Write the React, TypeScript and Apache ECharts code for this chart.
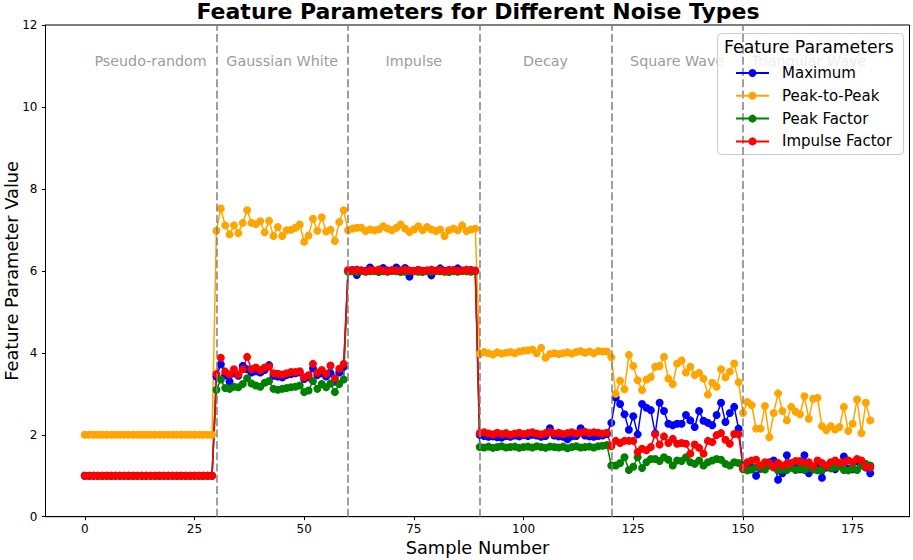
import React, { useEffect, useRef } from "react";
import * as echarts from "echarts";

const FONT = "DejaVu Sans";

// Sample-level values per feature (x = 0..179), six noise segments of 30 samples
const maximum = [
  1, 1, 1, 1, 1, 1, 1, 1, 1, 1, 1, 1, 1, 1, 1, 1, 1, 1, 1, 1, 1, 1, 1, 1, 1, 1, 1, 1, 1, 1,
  3.42, 3.72, 3.45, 3.30, 3.50, 3.44, 3.68, 3.60, 3.52, 3.55, 3.52, 3.58, 3.70, 3.44, 3.42, 3.40, 3.46, 3.48, 3.50, 3.52, 3.36, 3.40, 3.62, 3.46, 3.50, 3.42, 3.50, 3.30, 3.52, 3.66,
  6.00, 6.02, 5.90, 6.01, 6.00, 6.08, 6.00, 6.02, 6.07, 6.01, 6.00, 6.08, 6.01, 6.07, 5.86, 6.00, 6.02, 6.00, 6.01, 5.89, 6.00, 6.06, 6.00, 6.02, 6.01, 6.06, 6.00, 6.01, 6.02, 6.00,
  2.00, 1.97, 1.95, 1.96, 1.94, 1.93, 1.97, 1.95, 1.98, 1.96, 1.99, 1.97, 2.00, 1.98, 1.95, 1.97, 2.16, 1.98, 1.96, 1.95, 1.89, 1.96, 1.97, 2.16, 1.98, 1.96, 1.95, 1.97, 1.98, 2.02,
  2.29, 2.91, 2.75, 2.50, 2.12, 2.45, 2.01, 2.75, 2.66, 2.60, 2.03, 2.78, 2.58, 2.27, 2.23, 2.27, 2.27, 2.48, 2.35, 2.19, 2.58, 2.34, 2.29, 2.23, 2.48, 2.78, 2.31, 2.53, 2.68, 2.15,
  1.25, 1.22, 1.20, 1.00, 1.17, 1.20, 1.33, 1.37, 0.90, 1.06, 1.50, 1.20, 1.20, 1.16, 1.50, 1.06, 1.20, 1.23, 0.95, 1.20, 1.24, 1.16, 1.28, 1.47, 1.17, 1.16, 1.35, 1.28, 1.20, 1.06,
];

const peakToPeak = [
  2, 2, 2, 2, 2, 2, 2, 2, 2, 2, 2, 2, 2, 2, 2, 2, 2, 2, 2, 2, 2, 2, 2, 2, 2, 2, 2, 2, 2, 2,
  6.98, 7.52, 7.11, 6.89, 7.11, 6.92, 7.17, 7.48, 7.17, 7.14, 7.21, 6.94, 7.22, 6.85, 7.07, 6.85, 6.99, 7.00, 7.05, 7.13, 6.71, 6.86, 7.27, 6.98, 7.31, 6.96, 7.00, 6.73, 7.19, 7.48,
  6.99, 7.03, 7.05, 7.05, 6.97, 7.01, 6.99, 7.01, 7.09, 7.03, 6.99, 7.05, 7.13, 7.03, 6.95, 7.01, 7.09, 6.99, 7.07, 7.01, 6.97, 7.01, 6.85, 6.99, 7.03, 6.99, 7.11, 6.97, 7.01, 7.03,
  3.97, 4.02, 3.99, 3.96, 4.01, 3.98, 4.00, 4.02, 3.99, 4.03, 4.05, 4.06, 4.08, 3.99, 4.12, 3.88, 3.97, 3.99, 3.97, 3.99, 4.01, 3.98, 4.02, 4.04, 4.00, 4.03, 3.99, 4.04, 4.03, 4.03,
  3.89, 3.00, 3.32, 3.11, 3.95, 3.68, 3.33, 3.09, 3.35, 3.41, 3.66, 3.68, 3.90, 3.37, 3.24, 3.74, 3.81, 3.52, 3.66, 3.46, 3.51, 3.37, 2.98, 3.27, 3.17, 3.60, 3.40, 3.54, 3.74, 3.28,
  2.53, 2.80, 2.72, 2.15, 2.15, 2.70, 1.94, 2.53, 3.01, 2.58, 2.35, 2.68, 2.56, 2.50, 2.94, 2.39, 2.88, 2.90, 2.21, 2.11, 2.21, 2.13, 2.19, 2.68, 2.09, 2.27, 2.86, 2.04, 2.78, 2.35,
];

const peakFactor = [
  1, 1, 1, 1, 1, 1, 1, 1, 1, 1, 1, 1, 1, 1, 1, 1, 1, 1, 1, 1, 1, 1, 1, 1, 1, 1, 1, 1, 1, 1,
  3.10, 3.35, 3.14, 3.12, 3.17, 3.16, 3.24, 3.38, 3.25, 3.20, 3.17, 3.27, 3.31, 3.12, 3.10, 3.12, 3.14, 3.16, 3.17, 3.20, 3.04, 3.08, 3.31, 3.12, 3.24, 3.16, 3.25, 3.04, 3.24, 3.35,
  5.98, 5.99, 5.97, 6.00, 5.98, 5.99, 6.00, 5.97, 5.99, 5.98, 6.00, 5.99, 5.97, 5.98, 5.99, 6.00, 5.98, 5.97, 5.99, 5.98, 6.00, 5.99, 5.98, 5.97, 5.99, 5.98, 6.00, 5.99, 5.98, 5.99,
  1.70, 1.69, 1.71, 1.68, 1.70, 1.72, 1.69, 1.70, 1.71, 1.68, 1.70, 1.71, 1.69, 1.72, 1.70, 1.68, 1.71, 1.70, 1.69, 1.71, 1.67, 1.70, 1.72, 1.69, 1.70, 1.71, 1.69, 1.72, 1.73, 1.75,
  1.25, 1.25, 1.31, 1.45, 1.14, 1.22, 1.45, 1.19, 1.33, 1.41, 1.41, 1.36, 1.45, 1.39, 1.25, 1.37, 1.36, 1.45, 1.33, 1.29, 1.37, 1.25, 1.33, 1.37, 1.41, 1.39, 1.29, 1.25, 1.33, 1.31,
  1.16, 1.13, 1.15, 1.20, 1.20, 1.15, 1.25, 1.20, 1.13, 1.15, 1.14, 1.20, 1.14, 1.18, 1.14, 1.20, 1.15, 1.13, 1.14, 1.23, 1.18, 1.20, 1.23, 1.14, 1.13, 1.18, 1.14, 1.25, 1.29, 1.25,
];

const impulseFactor = [
  1, 1, 1, 1, 1, 1, 1, 1, 1, 1, 1, 1, 1, 1, 1, 1, 1, 1, 1, 1, 1, 1, 1, 1, 1, 1, 1, 1, 1, 1,
  3.48, 3.88, 3.54, 3.47, 3.60, 3.47, 3.60, 3.90, 3.60, 3.64, 3.58, 3.64, 3.66, 3.50, 3.49, 3.47, 3.50, 3.53, 3.53, 3.55, 3.40, 3.45, 3.73, 3.51, 3.58, 3.49, 3.69, 3.38, 3.61, 3.73,
  6.02, 6.00, 6.03, 6.01, 5.99, 6.02, 6.00, 6.03, 6.01, 5.99, 6.02, 6.01, 6.00, 6.03, 6.01, 5.99, 6.02, 6.00, 6.01, 6.03, 6.00, 6.02, 5.99, 6.01, 6.02, 6.00, 6.01, 6.03, 6.00, 6.01,
  2.04, 2.06, 2.03, 2.01, 2.05, 2.02, 2.04, 2.00, 2.03, 2.05, 2.02, 2.04, 2.06, 2.03, 2.01, 2.04, 2.07, 2.03, 2.05, 2.02, 2.04, 2.06, 2.03, 2.05, 2.07, 2.04, 2.06, 2.05, 2.03, 2.05,
  1.72, 1.85, 1.80, 1.85, 1.85, 1.85, 1.58, 1.66, 1.62, 1.70, 2.01, 1.76, 1.96, 1.80, 1.90, 1.78, 1.80, 1.78, 1.54, 1.76, 1.68, 1.54, 1.85, 1.82, 1.99, 2.04, 1.88, 1.78, 2.02, 2.01,
  1.20, 1.33, 1.37, 1.39, 1.25, 1.33, 1.31, 1.22, 1.31, 1.25, 1.29, 1.31, 1.36, 1.36, 1.31, 1.33, 1.23, 1.37, 1.31, 1.25, 1.33, 1.37, 1.31, 1.33, 1.37, 1.33, 1.41, 1.37, 1.22, 1.20,
];

const seriesNames = ["Maximum", "Peak-to-Peak", "Peak Factor", "Impulse Factor"];
const seriesColors = ["#0000ff", "#ffa500", "#008000", "#ff0000"];
const seriesValues = [maximum, peakToPeak, peakFactor, impulseFactor];

const segmentNames = ["Pseudo-random", "Gaussian White", "Impulse", "Decay", "Square Wave", "Triangular Wave"];
const segmentCenters = [15, 45, 75, 105, 135, 165];
const segmentBoundaries = [30, 60, 90, 120, 150];
const segmentLabelY = 11;

const xTicks = [0, 25, 50, 75, 100, 125, 150, 175];

export default function App() {
  const ref = useRef<HTMLDivElement>(null);

  useEffect(() => {
    document.body.style.margin = "0";
    const chart = echarts.init(ref.current!, null, { renderer: "svg" });

    const lineSeries = seriesNames.map((name, si) => ({
      name,
      type: "line",
      data: seriesValues[si].map((v, i) => [i, v]),
      symbol: "circle",
      symbolSize: 8,
      showAllSymbol: true,
      lineStyle: { width: 1.5, color: seriesColors[si] },
      itemStyle: { color: seriesColors[si] },
      emphasis: { disabled: true },
      z: 2,
      ...(si === 0
        ? {
            markLine: {
              silent: true,
              symbol: ["none", "none"],
              label: { show: false },
              lineStyle: { color: "#808080", type: [8, 3.3], width: 1.5 },
              emphasis: { disabled: true },
              data: segmentBoundaries.map((b) => ({ xAxis: b })),
            },
          }
        : {}),
    }));

    const labelSeries = {
      type: "scatter",
      silent: true,
      symbol: "circle",
      symbolSize: 1,
      itemStyle: { color: "transparent" },
      emphasis: { disabled: true },
      data: segmentNames.map((n, i) => ({ name: n, value: [segmentCenters[i], segmentLabelY] })),
      label: {
        show: true,
        position: "inside",
        offset: [0, -5],
        formatter: "{b}",
        fontSize: 14.3,
        color: "#808080",
        fontFamily: FONT,
      },
      z: 2,
    };

    chart.setOption({
      animation: false,
      textStyle: { fontFamily: FONT },
      title: {
        text: "Feature Parameters for Different Noise Types",
        left: 478,
        top: 0,
        textAlign: "center",
        padding: 0,
        textStyle: { fontSize: 22, fontWeight: "bold", fontFamily: FONT, color: "#000" },
      },
      grid: {
        left: 45.5,
        right: 3.5,
        top: 25,
        bottom: 43.3,
        containLabel: false,
        outerBoundsMode: "none",
        show: true,
        borderColor: "#000",
        borderWidth: 1,
        backgroundColor: "transparent",
      },
      xAxis: {
        type: "value",
        min: -8.95,
        max: 187.95,
        splitLine: { show: false },
        axisLine: { show: true, onZero: false, lineStyle: { color: "#000", width: 1 } },
        axisTick: { show: true, length: 3.5, lineStyle: { color: "#000", width: 1 }, customValues: xTicks },
        axisLabel: { customValues: xTicks, fontSize: 12, color: "#000", margin: 6.5, fontFamily: FONT },
        name: "Sample Number",
        nameLocation: "middle",
        nameGap: 22,
        nameMoveOverlap: false,
        nameTextStyle: { fontSize: 17.8, color: "#000", fontFamily: FONT },
      },
      yAxis: {
        type: "value",
        min: 0,
        max: 12,
        interval: 2,
        splitLine: { show: false },
        axisLine: { show: true, onZero: false, lineStyle: { color: "#000", width: 1 } },
        axisTick: { show: true, length: 3.5, lineStyle: { color: "#000", width: 1 } },
        axisLabel: { fontSize: 12, color: "#000", margin: 8, fontFamily: FONT },
        name: "Feature Parameter Value",
        nameLocation: "middle",
        nameGap: 25,
        nameMoveOverlap: false,
        nameTextStyle: { fontSize: 17.8, color: "#000", fontFamily: FONT },
      },
      legend: {
        data: seriesNames,
        orient: "vertical",
        left: 730,
        top: 60.5,
        itemWidth: 33,
        itemHeight: 10,
        itemGap: 7.8,
        selectedMode: false,
        textStyle: { fontSize: 15, color: "#000", fontFamily: FONT, padding: [0, 0, 0, 8] },
        z: 6,
      },
      graphic: [
        {
          type: "rect",
          left: 717,
          top: 33,
          shape: { width: 186, height: 121, r: 4 },
          style: { fill: "rgba(255,255,255,0.8)", stroke: "#cccccc", lineWidth: 1 },
          z: 3,
          silent: true,
        },
        {
          type: "text",
          left: 724,
          top: 38.6,
          style: { text: "Feature Parameters", fontSize: 17.3, fontFamily: FONT, fill: "#000" },
          z: 7,
          silent: true,
        },
      ],
      series: [...lineSeries, labelSeries],
    });

    return () => chart.dispose();
  }, []);

  return <div ref={ref} style={{ width: 913, height: 560 }} />;
}
